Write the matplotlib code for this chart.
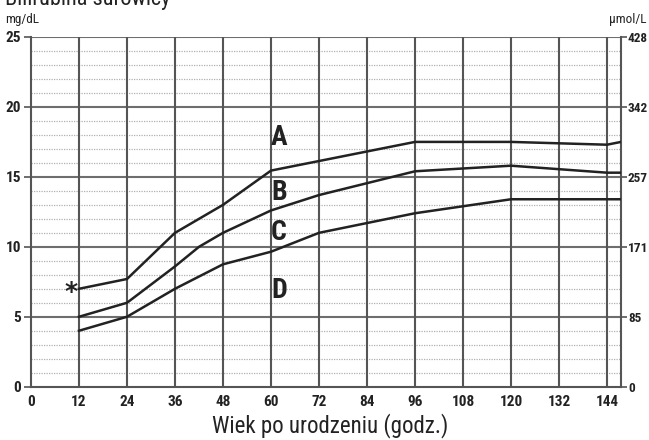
import matplotlib
matplotlib.use("Agg")
import matplotlib.pyplot as plt
from matplotlib import font_manager as fm

names = {f.name for f in fm.fontManager.ttflist}
COND = "DejaVu Sans"
for cand in ["Roboto Condensed", "Archivo Narrow", "Liberation Sans Narrow",
             "IBM Plex Sans Condensed", "Barlow Semi Condensed"]:
    if cand in names:
        COND = cand
        break

# Data
hours_A = [12, 24, 36, 48, 60, 96, 120, 144, 147.5]
vals_A = [7.0, 7.7, 11.0, 13.0, 15.45, 17.5, 17.5, 17.3, 17.5]
hours_B = [12, 24, 36, 42, 48, 60, 72, 96, 120, 144, 147.5]
vals_B = [5.0, 6.0, 8.6, 10.0, 11.0, 12.6, 13.7, 15.4, 15.8, 15.3, 15.3]
hours_C = [12, 24, 36, 48, 60, 72, 96, 120, 144, 147.5]
vals_C = [4.0, 5.0, 7.0, 8.75, 9.65, 11.0, 12.4, 13.4, 13.4, 13.4]

x_ticks = list(range(0, 145, 12))
y_ticks = [0, 5, 10, 15, 20, 25]
y_right_labels = ["0", "85", "171", "257", "342", "428"]
zone_labels = ["A", "B", "C", "D"]
zone_y = [17.8, 13.9, 11.0, 6.9]

fig = plt.figure(figsize=(6.49, 4.40), dpi=100)
ax = fig.add_axes([31/649, 1-386.7/440, (621-31)/649, (386.7-37)/440])
ax.set_xlim(0, 147.5)
ax.set_ylim(0, 25)

# minor dotted grid
for v in range(1, 25):
    if v % 5:
        ax.axhline(v, color="#b0b0b0", lw=0.9, ls=(0, (1, 1)), zorder=1)
for v in y_ticks[1:]:
    ax.axhline(v, color="#6e6e6e", lw=1.5, zorder=2)
for h in x_ticks[1:]:
    ax.axvline(h, color="#555555", lw=1.5, zorder=2)

for hx, vy in [(hours_A, vals_A), (hours_B, vals_B), (hours_C, vals_C)]:
    ax.plot(hx, vy, color="#222222", lw=1.8, zorder=4, solid_joinstyle="miter")

for lab, yy in zip(zone_labels, zone_y):
    ax.text(62, yy, lab, family=COND, fontweight="bold", fontsize=20,
            ha="center", va="center", color="#222222", zorder=5)
ax.text(10, 6.75, "*", fontsize=18, fontweight="bold", ha="center", va="center",
        color="#222222", family="DejaVu Sans")

for s in ["left", "right", "bottom", "top"]:
    ax.spines[s].set_color("#555555")
    ax.spines[s].set_linewidth(1.5)
ax.spines["top"].set_visible(False)

ax.set_xticks(x_ticks)
ax.set_yticks(y_ticks)
ax.tick_params(axis="x", length=0, pad=6)
ax.tick_params(axis="y", length=5, width=1.2, color="#555555", pad=2)
for t in ax.get_xticklabels() + ax.get_yticklabels():
    t.set_family(COND)
    t.set_fontweight("bold")
    t.set_fontsize(11)
    t.set_color("#222222")

ax2 = ax.twinx()
ax2.set_ylim(0, 25)
ax2.set_yticks(y_ticks)
ax2.set_yticklabels(y_right_labels)
ax2.tick_params(axis="y", length=4, width=1.2, color="#555555", pad=1)
for s in ["left", "right", "bottom", "top"]:
    ax2.spines[s].set_visible(False)
for t in ax2.get_yticklabels():
    t.set_family(COND)
    t.set_fontweight("bold")
    t.set_fontsize(9.5)
    t.set_color("#222222")

fig.text(5/649, 1-5/440, "Bilirubina surowicy", family=COND, fontsize=16,
         ha="left", va="baseline", color="#222222")
fig.text(5/649, 1-20/440, "mg/dL", family=COND, fontsize=9.5, ha="left", va="center",
         color="#222222")
fig.text(646/649, 1-20/440, "µmol/L", family=COND, fontsize=9.5, ha="right", va="center",
         color="#222222")
fig.text(330/649, 1-426/440, "Wiek po urodzeniu (godz.)", family=COND, fontsize=16.5,
         ha="center", va="center", color="#222222")

fig.savefig("out.png", dpi=100)
